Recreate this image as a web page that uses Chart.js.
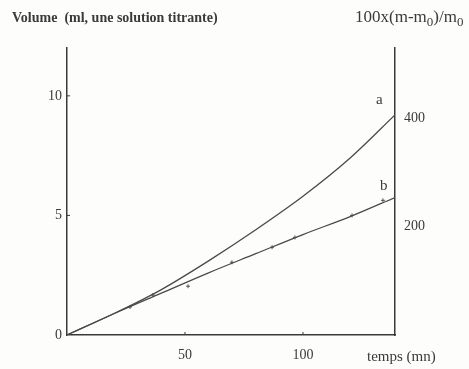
<!DOCTYPE html>
<html lang="fr">
<head>
  <meta charset="UTF-8" />
  <title>Volume / temps</title>
  <script src="https://cdn.jsdelivr.net/npm/chart.js"></script>
  <style>
    body {
      margin: 0;
      background: #fdfdfc;
      overflow: hidden;
    }
    .wrap {
      position: relative;
      width: 469px;
      height: 369px;
    }
  </style>
</head>
<body>
  <div class="wrap">
    <canvas id="chart" width="469" height="369"></canvas>
  </div>

  <script>
    // curve a (smooth line)
    const aTime = [0, 20, 40, 60, 80, 100, 120, 139];
    const aVolume = [0, 0.9, 1.9, 3.1, 4.4, 5.8, 7.4, 9.2];

    // curve b (fitted line) and its measured points
    const bTime = [0, 20, 40, 60, 80, 100, 120, 139];
    const bVolume = [0, 0.9, 1.75, 2.6, 3.4, 4.2, 4.95, 5.75];
    const bPtTime = [26.7, 36.4, 51.3, 69.9, 86.9, 96.6, 120.8, 133.9];
    const bPtVolume = [1.17, 1.67, 2.04, 3.04, 3.67, 4.08, 5.0, 5.63];

    const xTicks = [50, 100];
    const yTicks = [0, 5, 10];
    const y1Ticks = [200, 400];

    const ink = '#3a3a3a';
    const serif = "'Liberation Serif', 'DejaVu Serif', serif";

    const toXY = (xs, ys) => xs.map((x, i) => ({ x: x, y: ys[i] }));

    // labels, tiny inner ticks and sub-scripted title
    const decorations = {
      id: 'decorations',
      afterDraw(chart) {
        const c = chart.ctx;
        const xs = chart.scales.x;
        const ys = chart.scales.y;
        c.save();
        c.strokeStyle = ink;
        c.lineWidth = 1;
        for (const v of [5, 10]) {
          const py = ys.getPixelForValue(v);
          c.beginPath();
          c.moveTo(xs.left, py);
          c.lineTo(xs.left + 3, py);
          c.stroke();
        }
        for (const v of xTicks) {
          const px = xs.getPixelForValue(v);
          c.beginPath();
          c.moveTo(px, ys.bottom);
          c.lineTo(px, ys.bottom - 3);
          c.stroke();
        }

        c.fillStyle = ink;
        c.textBaseline = 'alphabetic';
        c.font = 'bold 14px ' + serif;
        c.textAlign = 'left';
        c.fillText('Volume  (ml, une solution titrante)', 12, 22);

        // 100x(m-m0)/m0 with sub-scripts
        let tx = 355;
        const ty = 22;
        const parts = [['100x(m-m', false], ['0', true], [')/m', false], ['0', true]];
        for (const [t, sub] of parts) {
          c.font = (sub ? '13px ' : '17px ') + serif;
          c.fillText(t, tx, sub ? ty + 4 : ty);
          tx += c.measureText(t).width;
        }

        c.font = '15px ' + serif;
        c.fillText('temps (mn)', 367, 361);

        c.font = '15px ' + serif;
        const aEnd = aTime.length - 1;
        c.fillText('a', xs.getPixelForValue(aTime[aEnd]) - 19, ys.getPixelForValue(aVolume[aEnd]) - 11);
        const bEnd = bTime.length - 1;
        c.fillText('b', xs.getPixelForValue(bTime[bEnd]) - 15, ys.getPixelForValue(bVolume[bEnd]) - 7);
        c.restore();
      }
    };

    const ctx = document.getElementById('chart').getContext('2d');
    new Chart(ctx, {
      type: 'scatter',
      data: {
        datasets: [
          {
            label: 'a',
            data: toXY(aTime, aVolume),
            showLine: true,
            borderColor: '#4a4a4a',
            borderWidth: 1.3,
            pointRadius: 0,
            cubicInterpolationMode: 'monotone',
            yAxisID: 'y'
          },
          {
            label: 'b',
            data: toXY(bTime, bVolume),
            showLine: true,
            borderColor: '#4a4a4a',
            borderWidth: 1.3,
            pointRadius: 0,
            cubicInterpolationMode: 'monotone',
            yAxisID: 'y'
          },
          {
            label: 'b mesures',
            data: toXY(bPtTime, bPtVolume),
            showLine: false,
            pointStyle: 'cross',
            pointRadius: 2,
            borderColor: '#555',
            borderWidth: 1,
            yAxisID: 'y'
          }
        ]
      },
      options: {
        responsive: false,
        animation: false,
        layout: { padding: { top: 48, left: 0, right: 0, bottom: 0 } },
        plugins: {
          legend: { display: false },
          tooltip: { enabled: false }
        },
        scales: {
          x: {
            type: 'linear',
            min: 0,
            max: 139,
            afterBuildTicks: s => { s.ticks = xTicks.map(v => ({ value: v })); },
            afterFit: s => { s.height = 34; },
            grid: { display: false, drawTicks: false },
            border: { color: ink, width: 1.5 },
            ticks: { color: ink, padding: 12, font: { family: serif, size: 14 } }
          },
          y: {
            position: 'left',
            min: 0,
            max: 12,
            afterBuildTicks: s => { s.ticks = yTicks.map(v => ({ value: v })); },
            afterFit: s => { s.width = 67; },
            grid: { display: false, drawTicks: false },
            border: { color: ink, width: 1.5 },
            ticks: { color: ink, padding: 5, font: { family: serif, size: 14 } }
          },
          y1: {
            position: 'right',
            min: 0,
            max: 530,
            afterBuildTicks: s => { s.ticks = y1Ticks.map(v => ({ value: v })); },
            afterFit: s => { s.width = 74; },
            grid: { display: false, drawTicks: false },
            border: { color: ink, width: 1.5 },
            ticks: { color: ink, padding: 9, font: { family: serif, size: 14 } }
          }
        }
      },
      plugins: [decorations]
    });
  </script>
</body>
</html>
